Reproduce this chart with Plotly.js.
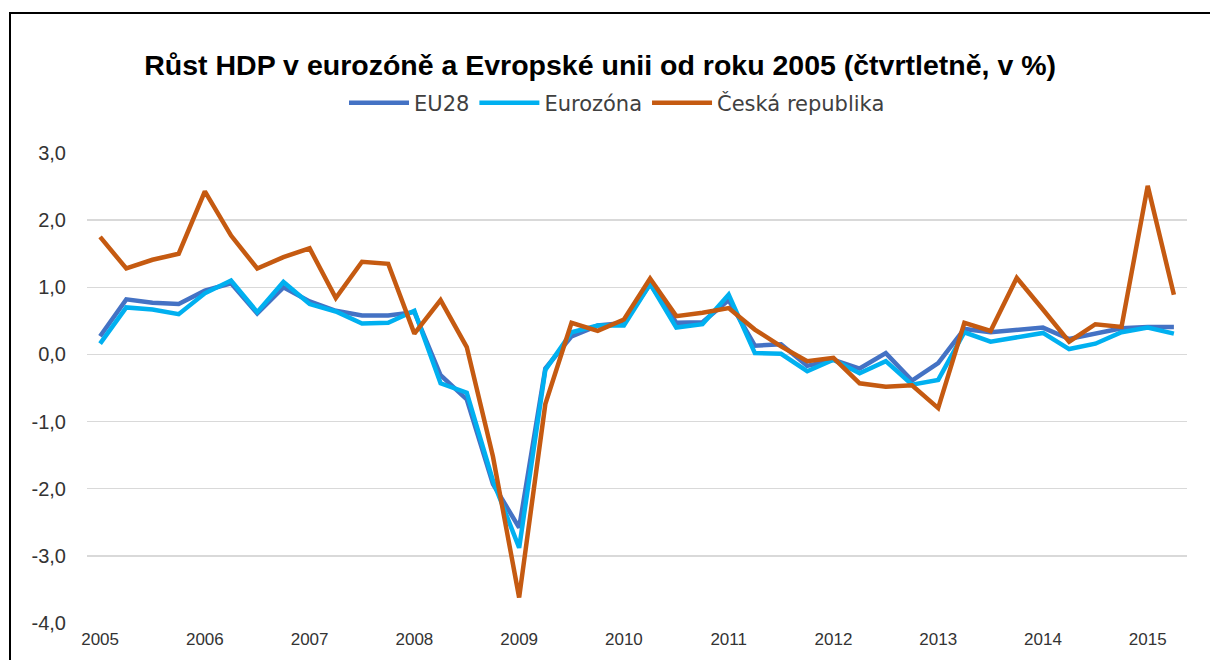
<!DOCTYPE html>
<html>
<head>
<meta charset="utf-8">
<script src="https://cdn.plot.ly/plotly-3.0.1.min.js"></script>
<style>
  html, body { margin: 0; padding: 0; background: #fff; overflow: hidden; }
  #chart { width: 1210px; height: 660px; }
  #frame { position: absolute; left: 9px; top: 12px; width: 1400px; height: 900px;
           border: 2px solid #000; pointer-events: none; }
</style>
</head>
<body>
<div id="chart"></div>
<div id="frame"></div>
<script>
const quarters = [
  "2005Q1","2005Q2","2005Q3","2005Q4","2006Q1","2006Q2","2006Q3","2006Q4",
  "2007Q1","2007Q2","2007Q3","2007Q4","2008Q1","2008Q2","2008Q3","2008Q4",
  "2009Q1","2009Q2","2009Q3","2009Q4","2010Q1","2010Q2","2010Q3","2010Q4",
  "2011Q1","2011Q2","2011Q3","2011Q4","2012Q1","2012Q2","2012Q3","2012Q4",
  "2013Q1","2013Q2","2013Q3","2013Q4","2014Q1","2014Q2","2014Q3","2014Q4",
  "2015Q1","2015Q2"
];
const eu28 = [
  0.27, 0.82, 0.77, 0.75, 0.95, 1.06, 0.61, 1.00,
  0.79, 0.65, 0.58, 0.58, 0.63, -0.31, -0.67, -1.93,
  -2.58, -0.21, 0.27, 0.43, 0.47, 1.05, 0.47, 0.48,
  0.81, 0.13, 0.15, -0.17, -0.08, -0.21, 0.02, -0.39,
  -0.13, 0.38, 0.33, 0.37, 0.40, 0.23, 0.31, 0.39,
  0.41, 0.41
];
const eurozona = [
  0.16, 0.70, 0.67, 0.60, 0.91, 1.10, 0.63, 1.08,
  0.75, 0.64, 0.46, 0.47, 0.65, -0.43, -0.57, -1.88,
  -2.88, -0.23, 0.33, 0.43, 0.43, 1.05, 0.40, 0.45,
  0.89, 0.02, 0.01, -0.25, -0.08, -0.28, -0.10, -0.45,
  -0.38, 0.33, 0.19, 0.26, 0.32, 0.08, 0.16, 0.33,
  0.40, 0.31
];
const ceskaRepublika = [
  1.75, 1.28, 1.41, 1.50, 2.43, 1.77, 1.28, 1.45,
  1.58, 0.84, 1.38, 1.35, 0.31, 0.81, 0.11, -1.52,
  -3.62, -0.74, 0.47, 0.35, 0.52, 1.13, 0.57, 0.62,
  0.69, 0.37, 0.12, -0.10, -0.05, -0.43, -0.48, -0.46,
  -0.80, 0.47, 0.35, 1.14, 0.67, 0.19, 0.45, 0.41,
  2.51, 0.89
];
const yearTickVals = ["2005Q1","2006Q1","2007Q1","2008Q1","2009Q1","2010Q1",
                      "2011Q1","2012Q1","2013Q1","2014Q1","2015Q1"];
const yearTickText = ["2005","2006","2007","2008","2009","2010",
                      "2011","2012","2013","2014","2015"];
const yTickVals = [-4, -3, -2, -1, 0, 1, 2, 3];
const yTickText = ["-4,0", "-3,0", "-2,0", "-1,0", "0,0", "1,0", "2,0", "3,0"];

const traces = [
  { x: quarters, y: eu28, name: "EU28", type: "scatter", mode: "lines",
    line: { color: "#4472C4", width: 4.5 } },
  { x: quarters, y: eurozona, name: "Eurozóna", type: "scatter", mode: "lines",
    line: { color: "#00B0F0", width: 4.5 } },
  { x: quarters, y: ceskaRepublika, name: "Česká republika", type: "scatter", mode: "lines",
    line: { color: "#C55A11", width: 4.5 } }
];

const layout = {
  width: 1210, height: 660,
  paper_bgcolor: "#fff", plot_bgcolor: "#fff",
  margin: { l: 87, r: 23, t: 153, b: 37 },
  title: {
    text: "<b>Růst HDP v eurozóně a Evropské unii od roku 2005 (čtvrtletně, v %)</b>",
    font: { family: "Liberation Sans, Arial, sans-serif", size: 28.5, color: "#000" },
    x: 0.496, xref: "container", xanchor: "center",
    y: 1 - 65 / 660, yref: "container", yanchor: "middle"
  },
  showlegend: true,
  legend: {
    orientation: "h",
    x: 617 / 1210, xref: "container", xanchor: "center",
    y: 1 - 103 / 660, yref: "container", yanchor: "middle",
    font: { family: "DejaVu Sans, sans-serif", size: 21, color: "#404040" },
    itemwidth: 60,
    bgcolor: "rgba(0,0,0,0)"
  },
  xaxis: {
    type: "category",
    range: [-0.5, 41.5],
    tickmode: "array", tickvals: yearTickVals, ticktext: yearTickText,
    showgrid: false, zeroline: false, showline: false, ticks: "",
    tickfont: { family: "Liberation Sans, Arial, sans-serif", size: 17, color: "#333" },
    ticklabelstandoff: 4
  },
  yaxis: {
    range: [-4, 3],
    tickmode: "array", tickvals: yTickVals, ticktext: yTickText,
    showgrid: true, gridcolor: "#D9D9D9", gridwidth: 1.3,
    zeroline: false, showline: false, ticks: "",
    tickfont: { family: "Liberation Sans, Arial, sans-serif", size: 20, color: "#333" },
    ticklabelstandoff: 20
  }
};

Plotly.newPlot("chart", traces, layout, { staticPlot: true, displayModeBar: false });
</script>
</body>
</html>
